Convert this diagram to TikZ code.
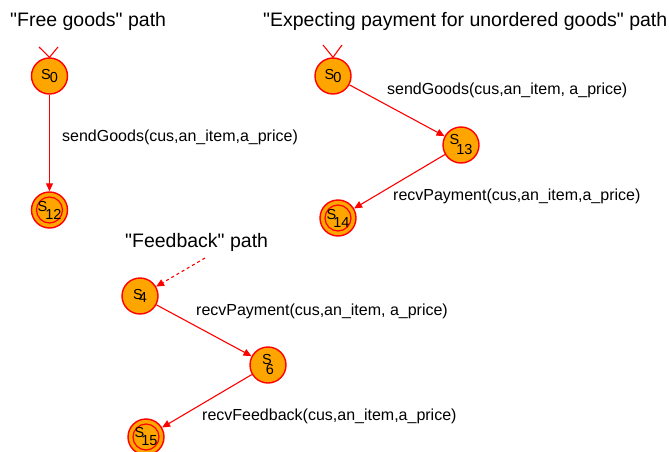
\documentclass[tikz,border=0pt]{standalone}
\usepackage{fontspec}
\setmainfont[Ligatures=TeXOff]{Liberation Sans}
\usetikzlibrary{arrows.meta}
\definecolor{stfill}{RGB}{255,165,0}
\newcommand{\stname}[3]{S\kern#1pt\raisebox{-#2pt}{#3}}
\begin{document}
\begin{tikzpicture}[x=1pt,y=-1pt,
  state/.style={circle,draw=red,line width=1.4pt,fill=stfill,minimum size=36pt,inner sep=0pt,
    font=\fontsize{14.5}{14.5}\selectfont},
  final/.style={state,path picture={\draw[red,line width=1.2pt] (path picture bounding box.center) circle (13pt);}},
  arr/.style={draw=red,line width=1.1pt,-{Triangle[length=8pt,width=7pt]}},
  initv/.style={draw=red,line width=1.1pt},
  title/.style={anchor=base west,inner sep=0pt,font=\fontsize{19.5}{20}\selectfont},
  lbl/.style={anchor=base west,inner sep=0pt,font=\fontsize{16}{16}\selectfont}]
\useasboundingbox (0,0) rectangle (669,452);
% titles
\node[title] (t1) at (10,27) {"Free goods" path};
\node[title] (t2) at (263,27) {"Expecting payment for unordered goods" path};
\node[title] (t3) at (125,247) {"Feedback" path};
% free goods
\node[state] (a0) at (49.5,76) {\stname{-1}{3}{0}};
\node[final] (a12) at (49.5,210) {\stname{-2}{8}{12}};
\coordinate (a0l) at (39,47);
\coordinate (a0r) at (58,47);
\draw[initv] (a0l) -- (a0.north) -- (a0r);
\draw[arr] (a0) -- (a12);
\node[lbl] (la) at (62,141.5) {sendGoods(cus,an\_item,a\_price)};
% expecting payment
\node[state] (b0) at (333,76) {\stname{-1}{3}{0}};
\node[state] (b13) at (461,145) {\stname{-3}{10}{13}};
\node[final] (b14) at (338,218) {\stname{-3}{8}{14}};
\coordinate (b0l) at (323,45);
\coordinate (b0r) at (342,45);
\draw[initv] (b0l) -- (b0.north) -- (b0r);
\draw[arr] (b0) -- (b13);
\draw[arr] (b13) -- (b14);
\node[lbl] (lb1) at (387,94) {sendGoods(cus,an\_item, a\_price)};
\node[lbl] (lb2) at (393,200) {recvPayment(cus,an\_item,a\_price)};
% feedback
\coordinate (cstart) at (205,258);
\node[state] (c4) at (140,296) {\stname{-4}{3}{4}};
\node[state] (c6) at (268,365) {\stname{-6}{10}{6}};
\node[final] (c15) at (146,437) {\stname{-3}{8}{15}};
\draw[arr,dashed] (cstart) -- (c4);
\draw[arr] (c4) -- (c6);
\draw[arr] (c6) -- (c15);
\node[lbl] (lc1) at (196,315) {recvPayment(cus,an\_item, a\_price)};
\node[lbl] (lc2) at (202,420.5) {recvFeedback(cus,an\_item,a\_price)};
\end{tikzpicture}
\end{document}
